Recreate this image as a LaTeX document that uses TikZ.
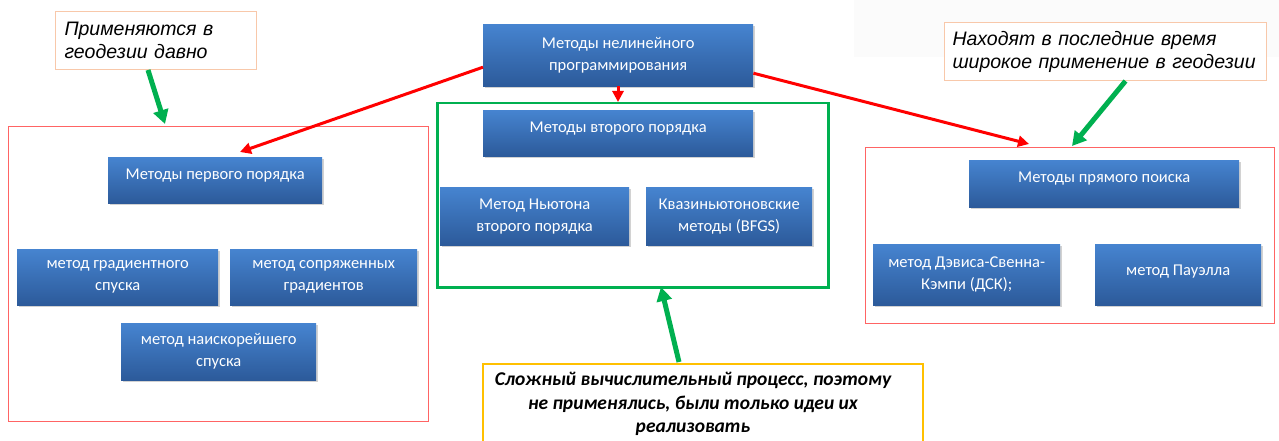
\documentclass[tikz,border=0pt]{standalone}
\usepackage{fontspec}
\setmainfont{Carlito}
\newfontfamily\callfont{Liberation Sans}
\usetikzlibrary{shadows,arrows.meta,calc}
\definecolor{btop}{RGB}{70,132,208}
\definecolor{bbot}{RGB}{44,90,154}
\definecolor{redline}{RGB}{255,0,0}
\definecolor{redbox}{RGB}{255,100,100}
\definecolor{grn}{RGB}{0,176,80}
\definecolor{peach}{RGB}{248,200,170}
\definecolor{gold}{RGB}{255,192,0}
\tikzset{
  bluebox/.style={rectangle, anchor=north west, top color=btop, bottom color=bbot, draw=none,
    text=white, font=\fontsize{16.5}{22}\selectfont, align=center, inner sep=0pt,
    drop shadow={shadow xshift=1.5pt, shadow yshift=-2pt, opacity=0.35}},
  onel/.style={text depth=12pt},
  groupbox/.style={rectangle, anchor=north west, draw=redbox, line width=1.2pt, inner sep=0pt},
  callout/.style={rectangle, anchor=north west, draw=peach, line width=1pt, fill=white,
    font=\callfont\itshape\fontsize{19.5}{23}\selectfont, align=left, inner sep=0pt},
  redarr/.style={draw=redline, line width=3pt, -{Triangle[length=11pt,width=11pt]}},
  grnarr/.style={draw=grn, line width=5pt, -{Triangle[length=14pt,width=15pt]}},
}
\begin{document}
\begin{tikzpicture}[x=1pt,y=-1pt]
\useasboundingbox (0,0) rectangle (1279,441);
\fill[white] (0,0) rectangle (1279,441);
% faint panel top right
\fill[black!1.5] (854,0) rectangle (1279,57);
% group boxes
\node[groupbox, minimum width=420pt, minimum height=295pt] (gl) at (8,126) {};
\node[groupbox, draw=grn, line width=2.5pt, minimum width=391pt, minimum height=184pt] (gm) at (436,102) {};
\node[groupbox, minimum width=409pt, minimum height=176pt] (gr) at (865,147) {};
% top box
\node[bluebox, minimum width=270pt, minimum height=62pt] (top) at (483,24) {Методы нелинейного\\программирования};
% middle
\node[bluebox, onel, minimum width=270pt, minimum height=46pt] (m2) at (483,110) {Методы второго порядка};
\node[bluebox, minimum width=189pt, minimum height=58pt] (newt) at (440,187) {Метод Ньютона\\второго порядка};
\node[bluebox, minimum width=166pt, minimum height=58pt] (bfgs) at (646,187) {Квазиньютоновские\\методы (BFGS)};
% left
\node[bluebox, onel, minimum width=214pt, minimum height=46pt] (m1) at (108,157) {Методы первого порядка};
\node[bluebox, minimum width=201pt, minimum height=56pt] (grad) at (17,249) {метод градиентного\\спуска};
\node[bluebox, minimum width=187pt, minimum height=56pt] (conj) at (230,249) {метод сопряженных\\градиентов};
\node[bluebox, minimum width=195pt, minimum height=57pt] (steep) at (121,323) {метод наискорейшего\\спуска};
% right
\node[bluebox, onel, minimum width=270pt, minimum height=47pt] (dir) at (969,160) {Методы прямого поиска};
\node[bluebox, minimum width=187pt, minimum height=61pt] (dsk) at (873,244) {метод Дэвиса-Свенна-\\Кэмпи (ДСК);};
\node[bluebox, minimum width=166pt, minimum height=61pt, text depth=9pt] (pow) at (1095,244) {метод Пауэлла};
% callouts
\node[callout, minimum width=201pt, minimum height=58pt, text width=197pt] (cl) at (55,11) {\hspace*{7pt}Применяются в\\\hspace*{7pt}геодезии давно};
\node[callout, minimum width=322pt, minimum height=58pt, text width=320pt] (cr) at (944,22) {\hspace*{7pt}Находят в последние время\\\hspace*{7pt}широкое применение в геодезии};
\node[rectangle, anchor=north west, draw=gold, line width=1.8pt, fill=white, minimum width=440pt, minimum height=90pt, inner sep=0pt] (cb) at (482,363) {};
\node[anchor=north, align=center, font=\bfseries\itshape\fontsize{19.5}{23.5}\selectfont, inner sep=0pt] (cbt) at (693,372) {Сложный вычислительный процесс, поэтому\\не применялись, были только идеи их\\реализовать};
% red arrows
\coordinate (tl) at (240,152);
\coordinate (tr) at (1029,144);
\coordinate (cx) at (618,0);
\draw[redarr] ([yshift=-12pt]top.west) -- (tl);
\draw[redarr] ([yshift=-18pt]top.east) -- (tr);
\draw[redarr] (top.south -| cx) -- (gm.north -| cx);
% green arrows
\draw[grnarr] ([xshift=-8pt]cl.south) -- (165,124);
\draw[grnarr] ([xshift=20pt]cr.south) -- (1072,146);
\draw[grnarr] (679,362) -- (661,287);
\end{tikzpicture}
\end{document}
